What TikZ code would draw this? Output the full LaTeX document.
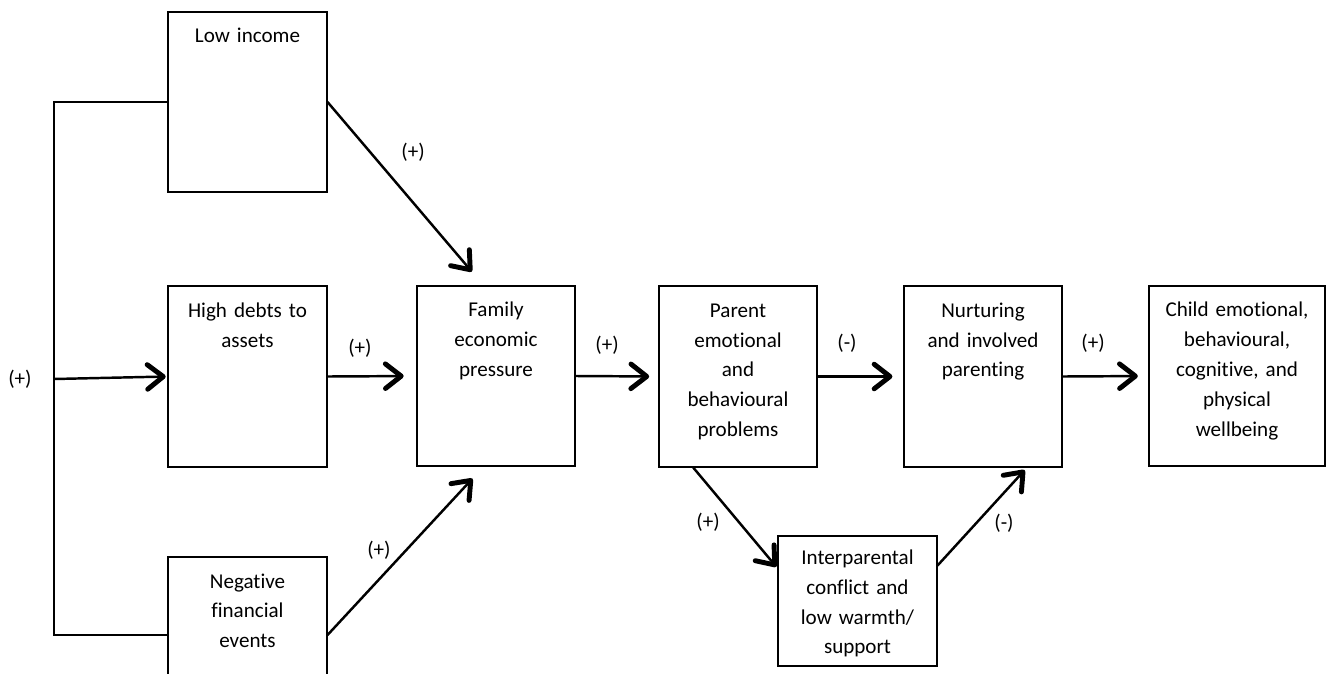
\documentclass[tikz,border=0pt]{standalone}
\usepackage{fontspec}
\setmainfont{Carlito}[Ligatures=NoCommon]
\usetikzlibrary{arrows.meta}
\usetikzlibrary{calc}
\tikzstyle{box}=[draw, line width=1.1pt, inner sep=0pt, align=center, text width=90pt, text height=17.5pt, text depth=85pt]
\tikzstyle{arr}=[line width=1.4pt, -{Straight Barb[length=9pt, width=14pt, line width=2.8pt, round]}]
\tikzstyle{sign}=[inner sep=0pt]

\begin{document}
\begin{tikzpicture}[x=0.02cm, y=-0.02cm, font=\fontsize{12}{17}\selectfont]
        \useasboundingbox (0,0) rectangle (1335,673);
        \node[box] (low) at (247.5,102) {Low income};
        \node[box] (high) at (247.5,376.5) {High debts to\\assets};
        \node[box, text depth=71pt] (neg) at (247.5,635) {Negative\\financial\\events};
        \node[box] (fam) at (496,376) {Family\\economic\\pressure};
        \node[box] (par) at (738,376.5) {Parent\\emotional\\and\\behavioural\\problems};
        \node[box] (nur) at (983,376.5) {Nurturing\\and involved\\parenting};
        \node[box, text width=99.8pt] (child) at (1237,376) {Child emotional,\\behavioural,\\cognitive, and\\physical\\wellbeing};
        \node[box, text height=16pt, text depth=57.7pt] (inter) at (857.5,601) {Interparental\\conflict and\\low warmth/\\support};
        \coordinate (brk) at (54,635);
        \coordinate (brkmid) at (54,379);
        \draw[line width=1.1pt] (low.west) -| (brk) -- (neg.west);
        \draw[arr, shorten >=1pt] (brkmid) -- (high.west);
        \draw[arr, shorten >=10pt] (low.east) -- ($(fam.north west)!0.42!(fam.north east)$);
        \draw[arr, shorten >=7pt] (high.east) -- (fam.west);
        \draw[arr, shorten >=9pt] (neg.east) -- ($(fam.south west)!0.42!(fam.south east)$);
        \draw[arr, shorten >=5pt] (fam.east) -- (par.west);
        \draw[arr, shorten >=6pt] (par.east) -- (nur.west);
        \draw[arr, shorten >=6pt] (nur.east) -- (child.west);
        \draw[arr, shorten >=1pt] ($(par.south west)!0.22!(par.south east)$) -- ($(inter.north west)!0.25!(inter.south west)$);
        \draw[arr, shorten >=2pt] ($(inter.north east)!0.23!(inter.south east)$) -- ($(nur.south west)!0.775!(nur.south east)$);
        \node[sign] (s1) at (20,379) {(+)};
        \node[sign] (s2) at (413,152) {(+)};
        \node[sign] (s3) at (360,348) {(+)};
        \node[sign] (s4) at (379,550) {(+)};
        \node[sign] (s5) at (607,345) {(+)};
        \node[sign] (s6) at (847,343) {(-)};
        \node[sign] (s7) at (1093,343) {(+)};
        \node[sign] (s8) at (708,522) {(+)};
        \node[sign] (s9) at (1004,523) {(-)};
    \end{tikzpicture}
\end{document}
